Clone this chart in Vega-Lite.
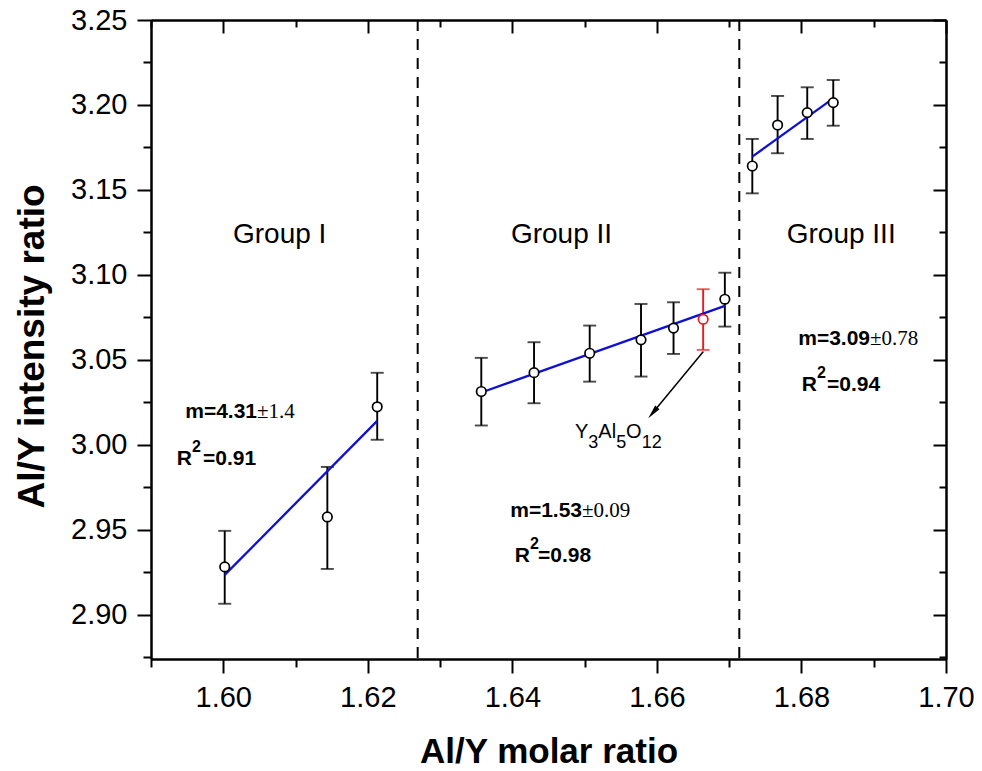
{
  "$schema": "https://vega.github.io/schema/vega-lite/v6.json",
  "width": 795,
  "height": 639,
  "autosize": {"type": "none"},
  "padding": {"left": 151, "top": 20, "right": 36, "bottom": 112},
  "background": "white",
  "config": {
    "view": {"stroke": null},
    "font": "Liberation Sans",
    "axis": {"domainColor": "black", "tickColor": "black", "labelColor": "black", "titleColor": "black", "grid": false, "domainWidth": 2, "tickWidth": 2, "labelFont": "Liberation Sans", "titleFont": "Liberation Sans", "labelFlush": false, "labelOverlap": false, "labelBound": false}
  },
  "datasets": {
    "pts": [
      {"x": 1.6002, "y": 2.9282, "lo": 2.9065, "hi": 2.9494, "kind": "sample"},
      {"x": 1.6144, "y": 2.9576, "lo": 2.9270, "hi": 2.9870, "kind": "sample"},
      {"x": 1.6213, "y": 3.0224, "lo": 3.0030, "hi": 3.0424, "kind": "sample"},
      {"x": 1.6357, "y": 3.0314, "lo": 3.0114, "hi": 3.0512, "kind": "sample"},
      {"x": 1.6430, "y": 3.0425, "lo": 3.0245, "hi": 3.0604, "kind": "sample"},
      {"x": 1.6507, "y": 3.0539, "lo": 3.0372, "hi": 3.0702, "kind": "sample"},
      {"x": 1.6578, "y": 3.0618, "lo": 3.0402, "hi": 3.0829, "kind": "sample"},
      {"x": 1.6623, "y": 3.0687, "lo": 3.0535, "hi": 3.0839, "kind": "sample"},
      {"x": 1.6664, "y": 3.0739, "lo": 3.0559, "hi": 3.0916, "kind": "YAG"},
      {"x": 1.6694, "y": 3.0857, "lo": 3.0696, "hi": 3.1013, "kind": "sample"},
      {"x": 1.6732, "y": 3.1641, "lo": 3.1480, "hi": 3.1800, "kind": "sample"},
      {"x": 1.6767, "y": 3.1882, "lo": 3.1716, "hi": 3.2053, "kind": "sample"},
      {"x": 1.6808, "y": 3.1955, "lo": 3.1800, "hi": 3.2104, "kind": "sample"},
      {"x": 1.6844, "y": 3.2014, "lo": 3.1878, "hi": 3.2147, "kind": "sample"}
    ],
    "fits": [
      {"g": "I", "x": 1.6002, "y": 2.9235},
      {"g": "I", "x": 1.6213, "y": 3.0141},
      {"g": "II", "x": 1.6357, "y": 3.0308},
      {"g": "II", "x": 1.6694, "y": 3.0818},
      {"g": "III", "x": 1.6732, "y": 3.1696},
      {"g": "III", "x": 1.6844, "y": 3.2039}
    ],
    "dividers": [{"x": 1.6269}, {"x": 1.6714}],
    "arrow": [
      {"x": 1.66643, "y": 3.05488},
      {"x": 1.65943, "y": 3.01888}
    ],
    "head": [{"x": 1.65943, "y": 3.01888}],
    "labels": [
      {"s": "grp", "t": "Group I", "x": 1.6078, "y": 3.1188},
      {"s": "grp", "t": "Group II", "x": 1.6468, "y": 3.1188},
      {"s": "grp", "t": "Group III", "x": 1.6855, "y": 3.1188},
      {"s": "mb", "t": "m=4.31", "x": 1.60467, "y": 3.01588},
      {"s": "mb", "t": "m=1.53", "x": 1.64964, "y": 2.95765},
      {"s": "mb", "t": "m=3.09", "x": 1.68949, "y": 3.05882},
      {"s": "pm", "t": "±1.4", "x": 1.60467, "y": 3.01588},
      {"s": "pm", "t": "±0.09", "x": 1.64964, "y": 2.95765},
      {"s": "pm", "t": "±0.78", "x": 1.68949, "y": 3.05882},
      {"s": "rb", "t": "R", "x": 1.59567, "y": 2.98824},
      {"s": "rb", "t": "R", "x": 1.64244, "y": 2.93118},
      {"s": "rb", "t": "R", "x": 1.68215, "y": 3.03176},
      {"s": "sup", "t": "2", "x": 1.59567, "y": 2.99588},
      {"s": "sup", "t": "2", "x": 1.64244, "y": 2.93882},
      {"s": "sup", "t": "2", "x": 1.68215, "y": 3.03941},
      {"s": "eq", "t": "=0.91", "x": 1.59720, "y": 2.98824},
      {"s": "eq", "t": "=0.98", "x": 1.64355, "y": 2.93118},
      {"s": "eq", "t": "=0.94", "x": 1.68354, "y": 3.03176},
      {"s": "chem", "t": "Y", "x": 1.64867, "y": 3.00412},
      {"s": "sub", "t": "3", "x": 1.65051, "y": 2.99824},
      {"s": "chem", "t": "Al", "x": 1.65189, "y": 3.00412},
      {"s": "sub", "t": "5", "x": 1.65436, "y": 2.99824},
      {"s": "chem", "t": "O", "x": 1.65574, "y": 3.00412},
      {"s": "sub", "t": "12", "x": 1.65790, "y": 2.99824}
    ]
  },
  "resolve": {"axis": {"x": "independent", "y": "independent"}},
  "layer": [
    {
      "data": {"name": "dividers"},
      "mark": {"type": "rule", "color": "black", "strokeWidth": 2, "strokeDash": [11, 8]},
      "encoding": {
        "x": {"field": "x", "type": "quantitative", "scale": {"domain": [1.59, 1.70], "nice": false, "zero": false}, "axis": null}
      }
    },
    {
      "data": {"name": "pts"},
      "mark": {"type": "rule", "strokeWidth": 1.9},
      "encoding": {
        "x": {"field": "x", "type": "quantitative", "scale": {"domain": [1.59, 1.70], "nice": false, "zero": false},
          "axis": {"orient": "bottom", "values": [1.60, 1.62, 1.64, 1.66, 1.68, 1.70], "format": ".2f", "labelFontSize": 29, "labelPadding": 10, "tickSize": 14, "title": "Al/Y molar ratio", "titleFontSize": 35, "titleFontWeight": "bold", "titlePadding": 22}},
        "y": {"field": "lo", "type": "quantitative", "scale": {"domain": [2.874, 3.25], "nice": false, "zero": false},
          "axis": {"orient": "left", "values": [2.90, 2.95, 3.00, 3.05, 3.10, 3.15, 3.20, 3.25], "format": ".2f", "labelFontSize": 29, "labelPadding": 10, "tickSize": 14, "title": "Al/Y intensity ratio", "titleFontSize": 37, "titleFontWeight": "bold", "titlePadding": 19, "titleY": 326}},
        "y2": {"field": "hi"},
        "color": {"field": "kind", "type": "nominal", "scale": {"domain": ["sample", "YAG"], "range": ["#000000", "#e41a1c"]}, "legend": null}
      }
    },
    {
      "data": {"name": "pts"},
      "mark": {"type": "tick", "orient": "horizontal", "size": 13, "thickness": 1.9},
      "encoding": {
        "x": {"field": "x", "type": "quantitative",
          "axis": {"orient": "top", "values": [1.60, 1.62, 1.64, 1.66, 1.68, 1.70], "labels": false, "tickSize": -13, "title": null}},
        "y": {"field": "lo", "type": "quantitative",
          "axis": {"orient": "right", "values": [2.90, 2.95, 3.00, 3.05, 3.10, 3.15, 3.20, 3.25], "labels": false, "tickSize": -13, "title": null}},
        "color": {"field": "kind", "type": "nominal", "legend": null}
      }
    },
    {
      "data": {"name": "pts"},
      "mark": {"type": "tick", "orient": "horizontal", "size": 13, "thickness": 1.9},
      "encoding": {
        "x": {"field": "x", "type": "quantitative",
          "axis": {"orient": "bottom", "values": [1.59, 1.61, 1.63, 1.65, 1.67, 1.69], "labels": false, "tickSize": 8, "title": null}},
        "y": {"field": "hi", "type": "quantitative",
          "axis": {"orient": "left", "values": [2.875, 2.925, 2.975, 3.025, 3.075, 3.125, 3.175, 3.225], "labels": false, "tickSize": 8, "title": null}},
        "color": {"field": "kind", "type": "nominal", "legend": null}
      }
    },
    {
      "data": {"name": "fits"},
      "mark": {"type": "line", "color": "#1010d4", "strokeWidth": 2.3},
      "encoding": {
        "x": {"field": "x", "type": "quantitative",
          "axis": {"orient": "top", "values": [1.59, 1.61, 1.63, 1.65, 1.67, 1.69], "labels": false, "tickSize": -7, "title": null}},
        "y": {"field": "y", "type": "quantitative",
          "axis": {"orient": "right", "values": [2.875, 2.925, 2.975, 3.025, 3.075, 3.125, 3.175, 3.225], "labels": false, "tickSize": -7, "title": null}},
        "detail": {"field": "g", "type": "nominal"}
      }
    },
    {
      "data": {"name": "pts"},
      "mark": {"type": "point", "shape": "circle", "filled": false, "fill": "white", "fillOpacity": 1, "size": 90, "strokeWidth": 1.7, "opacity": 1},
      "encoding": {
        "x": {"field": "x", "type": "quantitative", "axis": null},
        "y": {"field": "y", "type": "quantitative", "axis": null},
        "stroke": {"field": "kind", "type": "nominal", "scale": {"domain": ["sample", "YAG"], "range": ["#000000", "#e41a1c"]}, "legend": null}
      }
    },
    {
      "data": {"name": "arrow"},
      "mark": {"type": "line", "color": "black", "strokeWidth": 1.5},
      "encoding": {
        "x": {"field": "x", "type": "quantitative", "axis": null},
        "y": {"field": "y", "type": "quantitative", "axis": null}
      }
    },
    {
      "data": {"name": "head"},
      "mark": {"type": "point", "shape": "M0,-1L0.4,1L-0.4,1Z", "filled": true, "color": "black", "size": 200, "angle": 220, "opacity": 1},
      "encoding": {
        "x": {"field": "x", "type": "quantitative", "axis": null},
        "y": {"field": "y", "type": "quantitative", "axis": null}
      }
    },
    {
      "data": {"name": "labels"},
      "transform": [{"filter": "datum.s === 'grp'"}],
      "mark": {"type": "text", "font": "Liberation Sans", "fontSize": 28, "align": "center", "baseline": "alphabetic", "color": "black"},
      "encoding": {
        "x": {"field": "x", "type": "quantitative", "axis": null},
        "y": {"field": "y", "type": "quantitative", "axis": null},
        "text": {"field": "t"}
      }
    },
    {
      "data": {"name": "labels"},
      "transform": [{"filter": "datum.s === 'mb' || datum.s === 'rb'"}],
      "mark": {"type": "text", "font": "Liberation Sans", "fontWeight": "bold", "fontSize": 21, "align": "right", "baseline": "alphabetic", "color": "black"},
      "encoding": {
        "x": {"field": "x", "type": "quantitative", "axis": null},
        "y": {"field": "y", "type": "quantitative", "axis": null},
        "text": {"field": "t"}
      }
    },
    {
      "data": {"name": "labels"},
      "transform": [{"filter": "datum.s === 'pm'"}],
      "mark": {"type": "text", "font": "Liberation Serif", "fontSize": 21, "align": "left", "baseline": "alphabetic", "color": "black"},
      "encoding": {
        "x": {"field": "x", "type": "quantitative", "axis": null},
        "y": {"field": "y", "type": "quantitative", "axis": null},
        "text": {"field": "t"}
      }
    },
    {
      "data": {"name": "labels"},
      "transform": [{"filter": "datum.s === 'eq'"}],
      "mark": {"type": "text", "font": "Liberation Sans", "fontWeight": "bold", "fontSize": 21, "align": "left", "baseline": "alphabetic", "color": "black"},
      "encoding": {
        "x": {"field": "x", "type": "quantitative", "axis": null},
        "y": {"field": "y", "type": "quantitative", "axis": null},
        "text": {"field": "t"}
      }
    },
    {
      "data": {"name": "labels"},
      "transform": [{"filter": "datum.s === 'sup'"}],
      "mark": {"type": "text", "font": "Liberation Sans", "fontWeight": "bold", "fontSize": 16, "align": "left", "baseline": "alphabetic", "color": "black"},
      "encoding": {
        "x": {"field": "x", "type": "quantitative", "axis": null},
        "y": {"field": "y", "type": "quantitative", "axis": null},
        "text": {"field": "t"}
      }
    },
    {
      "data": {"name": "labels"},
      "transform": [{"filter": "datum.s === 'chem'"}],
      "mark": {"type": "text", "font": "Liberation Sans", "fontSize": 20, "align": "left", "baseline": "alphabetic", "color": "black"},
      "encoding": {
        "x": {"field": "x", "type": "quantitative", "axis": null},
        "y": {"field": "y", "type": "quantitative", "axis": null},
        "text": {"field": "t"}
      }
    },
    {
      "data": {"name": "labels"},
      "transform": [{"filter": "datum.s === 'sub'"}],
      "mark": {"type": "text", "font": "Liberation Sans", "fontSize": 18, "align": "left", "baseline": "alphabetic", "color": "black"},
      "encoding": {
        "x": {"field": "x", "type": "quantitative", "axis": null},
        "y": {"field": "y", "type": "quantitative", "axis": null},
        "text": {"field": "t"}
      }
    }
  ]
}
